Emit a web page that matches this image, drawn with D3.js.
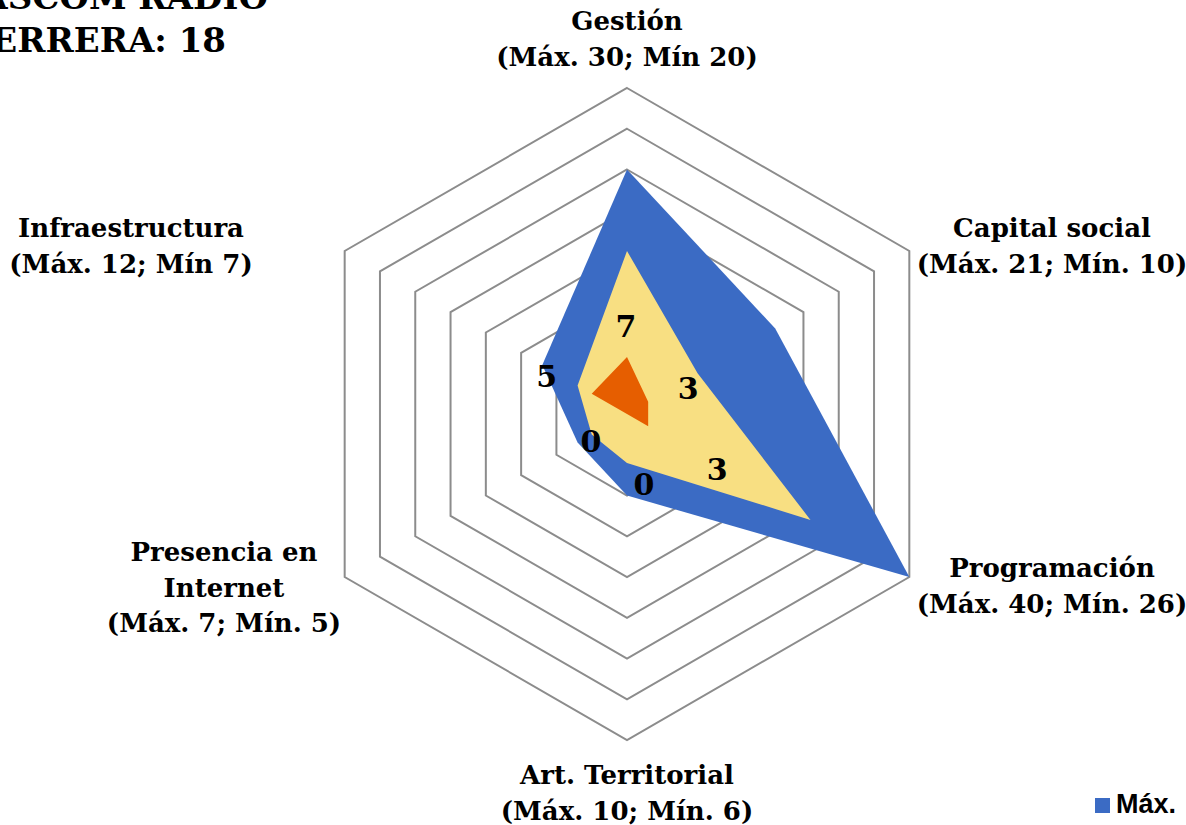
<!DOCTYPE html>
<html>
<head>
<meta charset="utf-8">
<script src="https://cdn.jsdelivr.net/npm/d3@7"></script>
<style>
  body { margin: 0; background: #fff; overflow: hidden; }
  text { font-family: "DejaVu Serif", serif; font-weight: bold; fill: #000; }
</style>
</head>
<body>
<div id="chart"></div>
<script>
// axes, clockwise from the top
var categories = ['Gestión', 'Capital social', 'Programación', 'Art. Territorial', 'Presencia en Internet', 'Infraestructura'];
var axisLabels = [
    ['Gestión', '(Máx. 30; Mín 20)'],
    ['Capital social', '(Máx. 21; Mín. 10)'],
    ['Programación', '(Máx. 40; Mín. 26)'],
    ['Art. Territorial', '(Máx. 10; Mín. 6)'],
    ['Presencia en', 'Internet', '(Máx. 7; Mín. 5)'],
    ['Infraestructura', '(Máx. 12; Mín 7)']
];
var maxValues = [30, 21, 40, 10, 7, 12];
var minValues = [20, 10, 26, 6, 5, 7];
var scoreValues = [7, 3, 3, 0, 0, 5];
var ringTicks = [5, 10, 15, 20, 25, 30, 35, 40];
var titleLines = ['PUNTAJE ASCOM RADIO', 'HERRERA: 18'];

var WIDTH = 1186, HEIGHT = 825,
    CX = 627, CY = 414, RADIUS = 326;

// layout tweaks (pixels), not data
var labelNudge = [[-1, -30], [40, -13], [69, 43], [17, 70], [-36, 27], [-45, -17]];
var axisLabelAnchor = [[627, 30], [1052, 237], [1052, 577], [627, 784], [224, 561], [131, 237]];

var svg = d3.select('#chart').append('svg')
    .attr('width', WIDTH)
    .attr('height', HEIGHT);

var r = d3.scaleLinear().domain([0, 40]).range([0, RADIUS]);
var angle = d3.scaleLinear().domain([0, categories.length]).range([0, 2 * Math.PI]);

function pt(i, v){
    var a = angle(i);
    return [CX + r(v) * Math.sin(a), CY - r(v) * Math.cos(a)];
}

var shape = d3.line().curve(d3.curveLinearClosed);

function polygon(values){
    return shape(values.map(function(v, i){ return pt(i, v); }));
}

// grid rings
svg.append('g').selectAll('path')
    .data(ringTicks).enter().append('path')
    .attr('d', function(t){ return polygon(categories.map(function(){ return t; })); })
    .attr('fill', 'none')
    .attr('stroke', '#8c8c8c')
    .attr('stroke-width', 2);

// series areas
var series = [
    { values: maxValues, color: '#3b6bc4' },
    { values: minValues, color: '#f8df82' },
    { values: scoreValues, color: '#e65e00' }
];
svg.append('g').selectAll('path')
    .data(series).enter().append('path')
    .attr('d', function(s){ return polygon(s.values); })
    .attr('fill', function(s){ return s.color; });

// score labels
svg.append('g').selectAll('text')
    .data(scoreValues).enter().append('text')
    .attr('x', function(d, i){ return pt(i, d)[0] + labelNudge[i][0]; })
    .attr('y', function(d, i){ return pt(i, d)[1] + labelNudge[i][1]; })
    .attr('text-anchor', 'middle')
    .attr('dominant-baseline', 'central')
    .style('font-size', '30px')
    .text(function(d){ return d; });

// axis labels
axisLabels.forEach(function(lines, i){
    var t = svg.append('text')
        .attr('text-anchor', 'middle')
        .style('font-size', '26px');
    lines.forEach(function(line, j){
        t.append('tspan')
            .attr('x', axisLabelAnchor[i][0])
            .attr('y', axisLabelAnchor[i][1] + j * 35.5)
            .text(line);
    });
});

// title (cut at the top-left edge, as in the source)
var title = svg.append('text')
    .attr('text-anchor', 'end')
    .style('font-size', '34px');
titleLines.forEach(function(line, j){
    title.append('tspan')
        .attr('x', j === 0 ? 268 : 226)
        .attr('y', 9 + j * 43)
        .text(line);
});

// legend (cut at the right edge)
var legend = svg.append('g').attr('transform', 'translate(1095,798)');
legend.append('rect').attr('width', 15).attr('height', 15).attr('fill', '#3b6bc4');
legend.append('text')
    .attr('x', 21).attr('y', 15)
    .style('font-family', '"Liberation Sans", Arial, sans-serif')
    .style('font-size', '27px')
    .text('Máx.');
</script>
</body>
</html>
